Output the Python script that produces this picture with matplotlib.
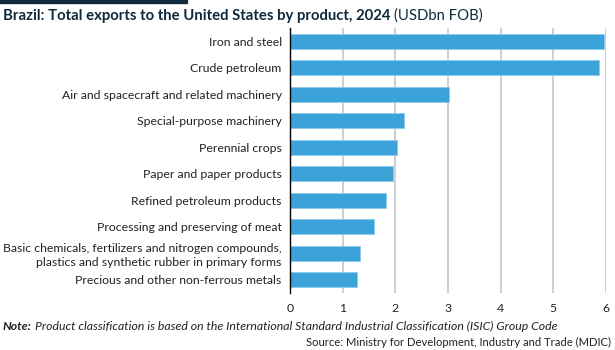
import matplotlib
matplotlib.use('Agg')
import matplotlib.pyplot as plt
from matplotlib.patches import Rectangle

products = ['Iron and steel', 'Crude petroleum', 'Air and spacecraft and related machinery',
            'Special-purpose machinery', 'Perennial crops', 'Paper and paper products',
            'Refined petroleum products', 'Processing and preserving of meat',
            'Basic chemicals, fertilizers and nitrogen compounds,\nplastics and synthetic rubber in primary forms',
            'Precious and other non-ferrous metals']
values = [5.96, 5.87, 3.02, 2.16, 2.04, 1.95, 1.82, 1.59, 1.33, 1.27]
ticks = [0, 1, 2, 3, 4, 5, 6]

plt.rcParams['font.family'] = 'Lato'
navy = '#0e2a3b'
txt = '#222222'

fig = plt.figure(figsize=(6.15, 3.5), dpi=100)
ax = fig.add_axes([290/615, 1-293/350, 316/615, 265/350])

ypos = list(range(len(products)))
ax.barh(ypos, values, height=0.58, color='#3ba3d8', edgecolor='#8ccbee', linewidth=0.6, zorder=3)
ax.set_yticks(ypos)
ax.set_yticklabels(products, fontsize=8.8, color=txt, linespacing=1.25)
ax.set_ylim(len(products)-0.5, -0.5)
ax.set_xlim(0, 6)
ax.set_xticks(ticks)
ax.set_xticklabels([str(t) for t in ticks], fontsize=8.8, color=txt)
ax.tick_params(axis='both', length=0, pad=6)
ax.tick_params(axis='x', pad=7)
ax.grid(axis='x', color='#cccccc', linewidth=1.3, zorder=0)
for s in ['top', 'right', 'bottom']:
    ax.spines[s].set_visible(False)
ax.spines['left'].set_color('black')
ax.spines['left'].set_linewidth(1.0)
ax.spines['left'].set_zorder(4)

fig.patches.append(Rectangle((0, 1-3/350), 187/615, 3/350, transform=fig.transFigure,
                             color=navy, zorder=5))

t = fig.text(3/615, 1-16/350, 'Brazil: Total exports to the United States by product, 2024',
             fontsize=10.75, fontweight='bold', color=navy, va='center')
fig.canvas.draw()
bb = t.get_window_extent()
fig.text(bb.x1/615 + 4/615, 1-16/350, '(USDbn FOB)', fontsize=10.75, color=navy, va='center')

n1 = fig.text(3/615, 1-326/350, 'Note:', fontsize=8.85, fontweight='bold', style='italic',
              color=txt, va='center')
fig.canvas.draw()
nb = n1.get_window_extent()
fig.text(nb.x1/615 + 3/615, 1-326/350,
         'Product classification is based on the International Standard Industrial Classification (ISIC) Group Code',
         fontsize=8.85, style='italic', color=txt, va='center')
fig.text(611/615, 1-342/350, 'Source: Ministry for Development, Industry and Trade (MDIC)',
         fontsize=8.1, color=txt, va='center', ha='right')

fig.savefig('out.png', dpi=100)
